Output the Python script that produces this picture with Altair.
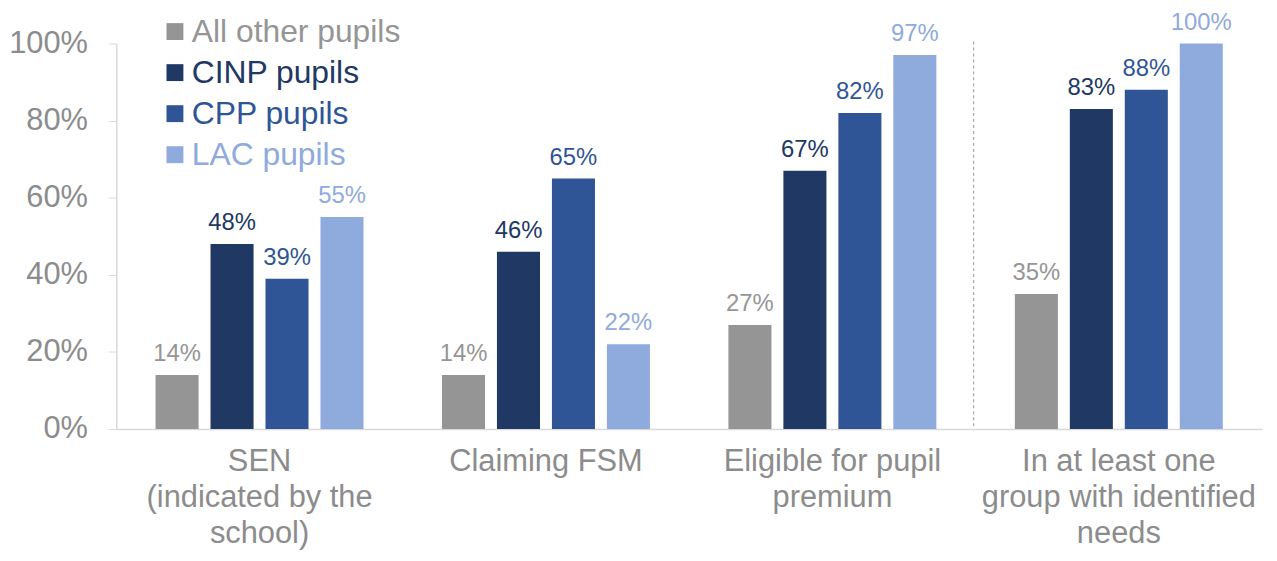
import altair as alt
import pandas as pd

categories = ["SEN|(indicated by the|school)", "Claiming FSM", "Eligible for pupil|premium",
              "In at least one|group with identified|needs"]
series = ["All other pupils", "CINP pupils", "CPP pupils", "LAC pupils"]
colors = ["#959595", "#203864", "#2F5597", "#8FAADC"]
all_other = [0.14, 0.14, 0.27, 0.35]
cinp = [0.48, 0.46, 0.67, 0.83]
cpp = [0.39, 0.65, 0.82, 0.88]
lac = [0.55, 0.22, 0.97, 1.00]

rows = []
for s, vals in zip(series, [all_other, cinp, cpp, lac]):
    for c, v in zip(categories, vals):
        rows.append({"category": c, "series": s, "value": v})
df = pd.DataFrame(rows)

FONT = "Liberation Sans"
GRAY = "#8C8C8C"

x = alt.X("category:N", sort=categories, title=None,
          scale=alt.Scale(paddingInner=0.274, paddingOuter=0.137),
          axis=alt.Axis(labelExpr="split(datum.label, '|')", labelAngle=0,
                        labelFontSize=31, labelColor=GRAY, labelFont=FONT, labelLimit=0,
                        labelLineHeight=36, labelPadding=18, labelBaseline="top",
                        ticks=False, domainColor="#D9D9D9", domainWidth=1.5))
xo = alt.XOffset("series:N", sort=series, scale=alt.Scale(paddingInner=0.217, paddingOuter=0))
y = alt.Y("value:Q", title=None,
          scale=alt.Scale(domain=[0, 1]),
          axis=alt.Axis(format=".0%", values=[0, 0.2, 0.4, 0.6, 0.8, 1.0], grid=False,
                        labelFontSize=31, labelColor=GRAY, labelFont=FONT,
                        labelPadding=21, tickSize=8, tickColor="#D9D9D9",
                        domainColor="#D9D9D9", domainWidth=1.5))
color = alt.Color("series:N", sort=series,
                  scale=alt.Scale(domain=series, range=colors),
                  legend=alt.Legend(title=None, orient="none", legendX=43, legendY=-28,
                                    symbolType="square", symbolSize=289, symbolStrokeWidth=0,
                                    labelFontSize=32, labelFont=FONT, labelLimit=0,
                                    labelColor={"expr": "scale('color', datum.value)"},
                                    rowPadding=9.3, padding=0, labelOffset=1))

bars = alt.Chart(df).mark_bar().encode(x=x, xOffset=xo, y=y, color=color)
labels = alt.Chart(df).mark_text(baseline="bottom", dy=-9, fontSize=24, font=FONT).encode(
    x=x, xOffset=xo, y=y, text=alt.Text("value:Q", format=".0%"),
    color=alt.Color("series:N", sort=series, scale=alt.Scale(domain=series, range=colors), legend=None))

sep = pd.DataFrame({"category": [categories[3]], "top": [1.005], "bottom": [0.0]})
rule = alt.Chart(sep).mark_rule(color="#A6A6A6", strokeDash=[3, 3], strokeWidth=1.2,
                                xOffset=-41.5).encode(
    x=alt.X("category:N", sort=categories, bandPosition=0),
    y=alt.Y("top:Q"), y2="bottom:Q")

chart = alt.layer(bars, labels, rule).properties(
    width=1153, height=388,
    autosize=alt.AutoSizeParams(type="none"),
    padding={"left": 109, "top": 34, "right": 7, "bottom": 123},
).configure_view(stroke=None)

chart.save("out.html", embed_options={"renderer": "svg", "actions": False})
